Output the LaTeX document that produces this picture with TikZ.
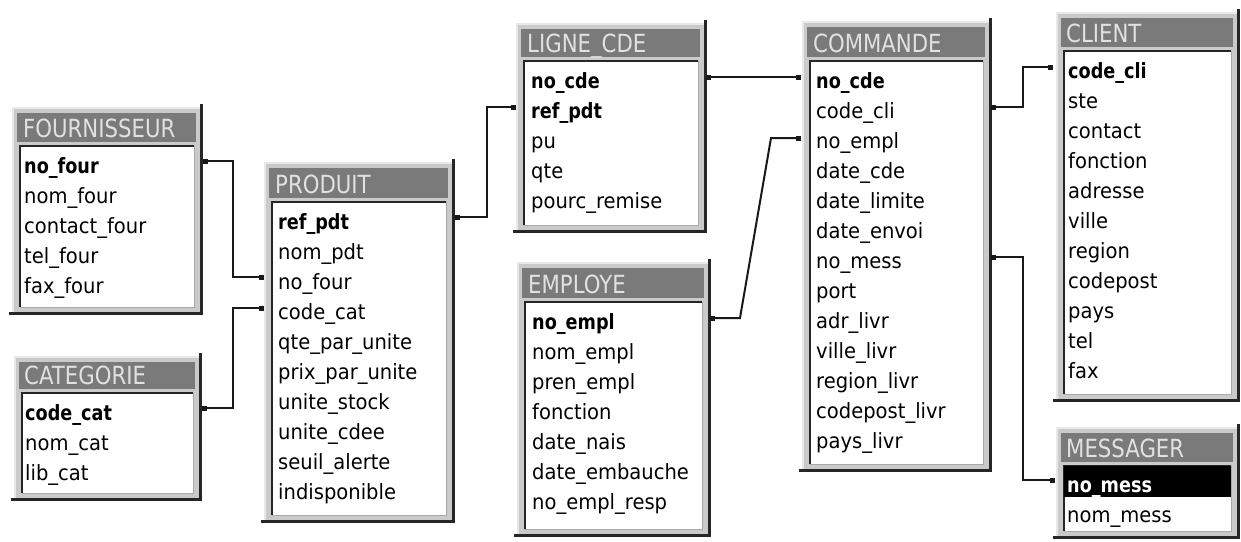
\documentclass[tikz,border=0pt]{standalone}
\usepackage{fontspec}
\setmainfont{DejaVu Sans}
\newfontfamily\fieldfont[FakeStretch=0.93]{DejaVu Sans}
\newfontfamily\keyfont[FakeStretch=0.84]{DejaVu Sans Bold}
\newfontfamily\titlefont[FakeStretch=0.85]{DejaVu Sans}

\definecolor{framebg}{RGB}{202,202,202}
\definecolor{framehi}{RGB}{232,232,232}
\definecolor{framein}{RGB}{170,170,170}
\definecolor{titlebg}{RGB}{122,122,122}
\definecolor{titlefg}{RGB}{225,225,225}
\definecolor{shadowcol}{RGB}{38,38,38}
\definecolor{linkcol}{RGB}{25,25,25}

% window frame of one table: left, top, right, bottom, bottom of title bar
\newcommand\tableframe[5]{%
  \fill[framebg] (#1,#2) rectangle (#3,#4);
  \draw[framehi, line width=1.5pt] (#1,#4) -- (#1,#2) -- (#3,#2);
  \fill[titlebg] (#1+4,#2+5) rectangle (#3-5,#5);
  \fill[white] (#1+7,#5+4) rectangle (#3-7,#4-6);
  \draw[framein, line width=1pt] (#3-7,#5+4) -- (#3-7,#4-6) -- (#1+7,#4-6);
  \draw[black!85, line width=1.6pt] (#1+7,#4-6) -- (#1+7,#5+4) -- (#3-7,#5+4);
  \draw[shadowcol, line width=3pt] (#3,#2-4) -- (#3,#4) -- (#1-4,#4);
}

\tikzset{
  field/.style={anchor=base west, inner sep=0pt, text=black,
    font=\fieldfont\fontsize{21}{24}\selectfont},
  keyfield/.style={field, font=\keyfont\fontsize{21}{24}\selectfont},
  titletext/.style={anchor=base west, inner sep=0pt, text=titlefg,
    font=\titlefont\fontsize{25}{28}\selectfont},
  link/.style={draw=linkcol, line width=2pt},
}

\begin{document}
\begin{tikzpicture}[x=1pt, y=-1pt]
\useasboundingbox (0,0) rectangle (1241,541);
\fill[white] (0,0) rectangle (1241,541);

% ---------- FOURNISSEUR ----------
\tableframe{13}{108}{201}{313}{142}
\node[titletext] (four-title) at (23,137) {FOURNISSEUR};
\node[keyfield] (four-0) at (24,173) {no\_four};
\foreach \t [count=\i from 1] in {nom\_four, contact\_four, tel\_four, fax\_four}
  \node[field] (four-\i) at (24,{173+30*\i}) {\t};

% ---------- CATEGORIE ----------
\tableframe{15}{357}{200}{499}{389}
\node[titletext] (cat-title) at (24,384) {CATEGORIE};
\node[keyfield] (cat-0) at (25,420) {code\_cat};
\foreach \t [count=\i from 1] in {nom\_cat, lib\_cat}
  \node[field] (cat-\i) at (25,{420+30*\i}) {\t};

% ---------- PRODUIT ----------
\tableframe{265}{163}{453}{521}{198}
\node[titletext] (prod-title) at (275,193) {PRODUIT};
\node[keyfield] (prod-0) at (278,229) {ref\_pdt};
\foreach \t [count=\i from 1] in {nom\_pdt, no\_four, code\_cat, qte\_par\_unite,
    prix\_par\_unite, unite\_stock, unite\_cdee, seuil\_alerte, indisponible}
  \node[field] (prod-\i) at (278,{229+30*\i}) {\t};

% ---------- LIGNE_CDE ----------
\tableframe{517}{24}{705}{231}{57}
\node[titletext] (ligne-title) at (527,52) {LIGNE\_CDE};
\node[keyfield] (ligne-0) at (531,88) {no\_cde};
\node[keyfield] (ligne-1) at (531,118) {ref\_pdt};
\foreach \t [count=\i from 2] in {pu, qte, pourc\_remise}
  \node[field] (ligne-\i) at (531,{88+30*\i}) {\t};

% ---------- EMPLOYE ----------
\tableframe{518}{263}{709}{535}{298}
\node[titletext] (empl-title) at (528,293) {EMPLOYE};
\node[keyfield] (empl-0) at (532,329) {no\_empl};
\foreach \t [count=\i from 1] in {nom\_empl, pren\_empl, fonction, date\_nais,
    date\_embauche, no\_empl\_resp}
  \node[field] (empl-\i) at (532,{329+30*\i}) {\t};

% ---------- COMMANDE ----------
\tableframe{803}{22}{990}{470}{57}
\node[titletext] (comm-title) at (813,52) {COMMANDE};
\node[keyfield] (comm-0) at (816,88) {no\_cde};
\foreach \t [count=\i from 1] in {code\_cli, no\_empl, date\_cde, date\_limite,
    date\_envoi, no\_mess, port, adr\_livr, ville\_livr, region\_livr,
    codepost\_livr, pays\_livr}
  \node[field] (comm-\i) at (816,{88+30*\i}) {\t};

% ---------- CLIENT ----------
\tableframe{1057}{13}{1238}{400}{47}
\node[titletext] (cli-title) at (1066,42) {CLIENT};
\node[keyfield] (cli-0) at (1068,78) {code\_cli};
\foreach \t [count=\i from 1] in {ste, contact, fonction, adresse, ville, region,
    codepost, pays, tel, fax}
  \node[field] (cli-\i) at (1068,{78+30*\i}) {\t};

% ---------- MESSAGER ----------
\tableframe{1057}{428}{1238}{537}{462}
\node[titletext] (mess-title) at (1066,457) {MESSAGER};
\fill[black] (1064,466) rectangle (1231,497);
\node[keyfield, text=white] (mess-0) at (1067,492) {no\_mess};
\node[field] (mess-1) at (1067,522) {nom\_mess};

% ---------- link end points ----------
\coordinate (fourR)  at (205,161);
\coordinate (catR)   at (204,408);
\coordinate (prodL1) at (261,277);
\coordinate (prodL2) at (261,308);
\coordinate (prodR)  at (457,217);
\coordinate (ligneL) at (513,107);
\coordinate (ligneR) at (708,77);
\coordinate (emplR)  at (712,318);
\coordinate (commL1) at (798,77);
\coordinate (commL2) at (798,138);
\coordinate (commR1) at (993,107);
\coordinate (commR2) at (993,257);
\coordinate (cliL)   at (1050,67);
\coordinate (messL)  at (1052,480);

% ---------- links ----------
\draw[link] (fourR) -- ++(28,0) |- (prodL1);
\draw[link] (catR) -- ++(29,0) |- (prodL2);
\draw[link] (prodR) -- ++(30,0) |- (ligneL);
\draw[link] (ligneR) -- (commL1);
\draw[link] (emplR) -- ++(28,0) -- ([xshift=-27pt]commL2) -- (commL2);
\draw[link] (commR1) -- ++(30,0) |- (cliL);
\draw[link] (commR2) -- ++(30,0) |- (messL);

% small square ends of the links
\foreach \p in {fourR, catR, prodL1, prodL2, prodR, ligneL, ligneR, emplR,
    commL1, commL2, commR1, commR2, cliL, messL}
  \fill[linkcol] (\p) +(-2.5,-2.5) rectangle +(2.5,2.5);
\end{tikzpicture}
\end{document}
